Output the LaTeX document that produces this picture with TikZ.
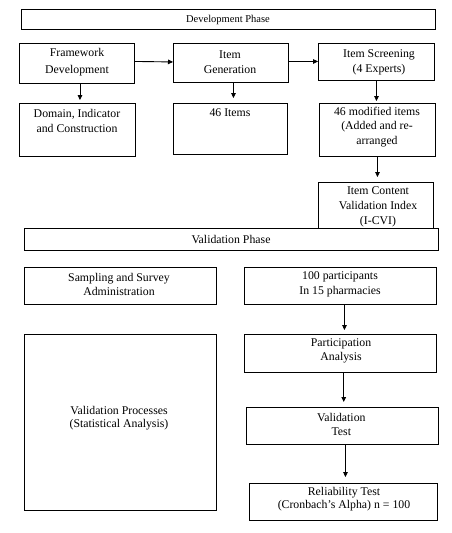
\documentclass[tikz,border=0pt]{standalone}
\usepackage{fontspec}
\setmainfont{Liberation Serif}
\usetikzlibrary{arrows.meta}
\begin{document}
\begin{tikzpicture}[x=1pt,y=-1pt,
  box/.style={draw, line width=0.9pt, inner sep=0pt, anchor=north west},
  txt/.style={align=center, inner sep=0pt, font=\fontsize{11.8}{14.5}\selectfont},
  arr/.style={-{Triangle[length=5pt,width=4.6pt]}, line width=0.9pt}]
\useasboundingbox[fill=white] (0,0) rectangle (451,533);
% boxes
\node[box, minimum width=414pt, minimum height=20pt] (dev) at (21,9) {};
\node[box, minimum width=115pt, minimum height=40pt] (fw) at (19,43) {};
\node[box, minimum width=115pt, minimum height=39pt] (ig) at (173,43) {};
\node[box, minimum width=116pt, minimum height=37pt] (is) at (318,43) {};
\node[box, minimum width=116pt, minimum height=53pt] (dom) at (19,103) {};
\node[box, minimum width=114pt, minimum height=51pt] (items) at (173,103) {};
\node[box, minimum width=116pt, minimum height=53pt] (mod) at (319,103) {};
\node[box, minimum width=115pt, minimum height=46pt] (icvi) at (318,182) {};
\node[box, minimum width=414pt, minimum height=22pt] (valph) at (24,228) {};
\node[box, minimum width=192pt, minimum height=37pt] (samp) at (24,267) {};
\node[box, minimum width=192pt, minimum height=37pt] (part) at (244,267) {};
\node[box, minimum width=192pt, minimum height=176pt] (proc) at (24,334) {};
\node[box, minimum width=192pt, minimum height=38pt] (pa) at (244,334) {};
\node[box, minimum width=192pt, minimum height=37pt] (vt) at (246,407) {};
\node[box, minimum width=188pt, minimum height=37pt] (rt) at (249,483) {};
% texts
\node[txt, font=\fontsize{10.5}{12}\selectfont] (devt) at (228,19.5) {Development Phase};
\node[txt, font=\fontsize{11.8}{16.5}\selectfont] (fwt) at (77,62) {Framework\\Development};
\node[txt, font=\fontsize{11.8}{15.5}\selectfont] (igt) at (230,62) {Item\\Generation};
\node[txt, font=\fontsize{11.8}{15}\selectfont] (ist) at (379,62.5) {Item Screening\\(4 Experts)};
\node[txt, font=\fontsize{11.8}{15}\selectfont] (domt) at (77,121) {Domain, Indicator\\and Construction};
\node[txt] (itemst) at (230,112.5) {46 Items};
\node[txt] (modt) at (377,127) {46 modified items\\(Added and re-\\arranged};
\node[txt, font=\fontsize{11.8}{14.7}\selectfont] (icvit) at (378,207) {Item Content\\Validation Index\\(I-CVI)};
\node[txt] (valt) at (231,239.3) {Validation Phase};
\node[txt] (sampt) at (119,284.5) {Sampling and Survey\\Administration};
\node[txt] (partt) at (340,284.5) {100 participants\\In 15 pharmacies};
\node[txt, font=\fontsize{11.8}{14.3}\selectfont] (pat) at (341,351) {Participation\\Analysis};
\node[txt, font=\fontsize{11.8}{13.3}\selectfont] (proct) at (119,418) {Validation Processes\\(Statistical Analysis)};
\node[txt, font=\fontsize{11.8}{14.4}\selectfont] (vtt) at (341.3,424.5) {Validation\\Test};
\node[txt, font=\fontsize{11.8}{13.4}\selectfont] (rtt) at (344,499) {Reliability Test\\(Cronbach’s Alpha) n = 100};
% connectors
\draw[arr] ([yshift=2pt]fw.east) -- ([yshift=1pt]ig.west);
\draw[arr] ([yshift=1.5pt]ig.east) -- ([yshift=0.5pt]is.west);
\draw[arr, shorten >=3pt] ([xshift=3pt]fw.south) -- ([xshift=2.5pt]dom.north);
\draw[arr, shorten >=5pt] ([xshift=2.5pt]ig.south) -- ([xshift=3pt]items.north);
\draw[arr, shorten >=2pt] (is.south) -- (is.south |- mod.north);
\draw[arr, shorten >=5pt] (mod.south) -- (mod.south |- icvi.north);
\draw[arr, shorten >=4pt] ([xshift=4pt]part.south) -- ([xshift=4pt]part.south |- pa.north);
\draw[arr, shorten >=5pt] ([xshift=3.3pt]pa.south) -- ([xshift=3.3pt]pa.south |- vt.north);
\draw[arr, shorten >=6pt] ([xshift=3pt]vt.south) -- ([xshift=3pt]vt.south |- rt.north);
\end{tikzpicture}
\end{document}
